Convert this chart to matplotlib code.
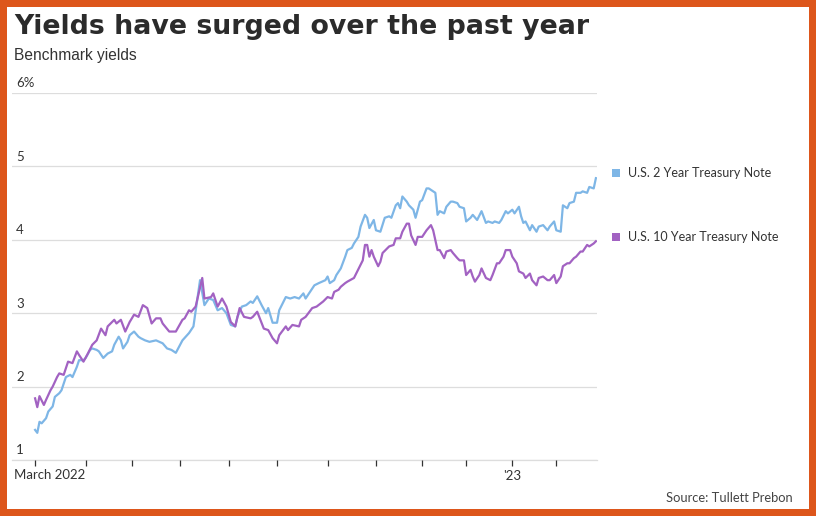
import matplotlib
matplotlib.use("Agg")
import matplotlib.pyplot as plt
import matplotlib.patches as patches
import matplotlib.transforms as mtransforms

# x = trading session number counted from March 1, 2022
two_year_x = [0, 1, 2, 3, 5, 6, 8, 9, 11, 12, 14, 16, 17, 19, 20, 22, 23, 25, 26, 28,
              29, 31, 33, 35, 36, 38, 39, 40, 42, 43, 45, 47, 48, 50, 52, 55, 58, 60, 62, 64,
              67, 70, 72, 75, 77, 79, 81, 83, 85, 87, 89, 91, 92, 94, 96, 98, 99, 101, 103, 105,
              106, 108, 110, 111, 114, 116, 118, 120, 122, 123, 125, 127, 129, 132, 133, 134, 136, 137, 139, 141,
              142, 144, 145, 147, 148, 150, 151, 152, 154, 155, 157, 159, 161, 162, 164, 165, 166, 167, 169, 170,
              172, 173, 175, 176, 178, 179, 181, 182, 183, 184, 186, 187, 189, 190, 192, 193, 195, 196, 198, 199,
              201, 203, 205, 206, 208, 209, 211, 212, 214, 215, 217, 218, 220, 221, 222, 223, 225, 226, 228, 229,
              231, 233, 234, 236, 237, 239, 240, 242, 243, 245, 246, 248, 249, 251, 252, 254, 255]
two_year = [1.41, 1.37, 1.52, 1.50, 1.57, 1.66, 1.73, 1.86, 1.91, 1.95, 2.13, 2.16, 2.13, 2.27, 2.36, 2.36, 2.39, 2.50, 2.52, 2.50,
            2.48, 2.39, 2.45, 2.48, 2.57, 2.68, 2.63, 2.52, 2.61, 2.70, 2.75, 2.68, 2.66, 2.63, 2.61, 2.63, 2.59, 2.52, 2.50, 2.46,
            2.63, 2.73, 2.82, 3.45, 3.11, 3.20, 3.18, 3.04, 3.07, 3.00, 2.84, 2.82, 2.95, 3.09, 3.11, 3.16, 3.14, 3.23, 3.11, 3.00,
            3.07, 2.87, 2.87, 3.04, 3.22, 3.20, 3.22, 3.20, 3.27, 3.20, 3.29, 3.38, 3.41, 3.45, 3.50, 3.41, 3.45, 3.52, 3.61, 3.77,
            3.86, 3.89, 3.95, 4.04, 4.18, 4.34, 4.30, 4.16, 4.27, 4.13, 4.11, 4.30, 4.32, 4.30, 4.47, 4.50, 4.43, 4.59, 4.52, 4.47,
            4.41, 4.30, 4.52, 4.54, 4.70, 4.70, 4.66, 4.64, 4.34, 4.39, 4.36, 4.45, 4.52, 4.52, 4.50, 4.45, 4.43, 4.25, 4.30, 4.34,
            4.27, 4.39, 4.23, 4.25, 4.23, 4.25, 4.23, 4.27, 4.39, 4.36, 4.41, 4.36, 4.45, 4.32, 4.23, 4.25, 4.13, 4.20, 4.11, 4.18,
            4.20, 4.13, 4.18, 4.25, 4.13, 4.11, 4.47, 4.43, 4.50, 4.52, 4.64, 4.64, 4.66, 4.64, 4.72, 4.70, 4.84]

ten_year_x = [0, 1, 2, 4, 5, 7, 8, 10, 11, 13, 15, 17, 19, 20, 22, 24, 26, 28, 30, 32,
              33, 36, 37, 39, 41, 43, 45, 47, 49, 51, 53, 55, 57, 58, 61, 63, 64, 67, 68, 70,
              71, 73, 76, 77, 80, 81, 83, 85, 87, 89, 91, 93, 95, 98, 99, 101, 104, 106, 108, 110,
              111, 114, 115, 117, 120, 121, 123, 126, 128, 131, 133, 135, 136, 138, 139, 141, 142, 145, 146, 148,
              149, 150, 151, 152, 153, 154, 156, 157, 158, 160, 161, 163, 164, 166, 167, 169, 170, 171, 173, 174,
              176, 178, 180, 181, 183, 184, 186, 187, 189, 190, 192, 193, 195, 196, 198, 199, 200, 202, 203, 205,
              207, 208, 210, 211, 213, 214, 216, 217, 219, 220, 222, 223, 225, 226, 228, 229, 231, 233, 234, 236,
              237, 239, 240, 242, 243, 245, 246, 248, 249, 251, 252, 254, 255]
ten_year = [1.84, 1.72, 1.87, 1.75, 1.82, 1.95, 2.00, 2.13, 2.18, 2.16, 2.34, 2.32, 2.48, 2.43, 2.34, 2.45, 2.57, 2.63, 2.79, 2.70,
            2.82, 2.91, 2.86, 2.91, 2.75, 2.88, 2.98, 2.95, 3.11, 3.07, 2.86, 2.93, 2.93, 2.86, 2.75, 2.75, 2.75, 2.91, 2.93, 3.04,
            3.02, 3.09, 3.48, 3.20, 3.22, 3.27, 3.09, 3.20, 3.09, 2.88, 2.82, 3.07, 2.95, 2.93, 2.95, 3.02, 2.79, 2.77, 2.66, 2.59,
            2.70, 2.82, 2.77, 2.84, 2.82, 2.91, 2.95, 3.07, 3.09, 3.16, 3.22, 3.20, 3.29, 3.32, 3.36, 3.41, 3.43, 3.48, 3.54, 3.66,
            3.72, 3.93, 3.93, 3.77, 3.86, 3.77, 3.64, 3.70, 3.82, 3.88, 3.91, 3.93, 4.02, 4.02, 4.11, 4.22, 4.22, 4.06, 3.93, 4.04,
            4.04, 4.13, 4.20, 4.13, 3.86, 3.86, 3.75, 3.84, 3.86, 3.82, 3.75, 3.72, 3.72, 3.52, 3.59, 3.50, 3.43, 3.52, 3.61, 3.48,
            3.45, 3.52, 3.68, 3.68, 3.77, 3.86, 3.86, 3.77, 3.68, 3.57, 3.54, 3.48, 3.54, 3.45, 3.38, 3.48, 3.50, 3.45, 3.45, 3.52,
            3.41, 3.50, 3.64, 3.68, 3.68, 3.75, 3.77, 3.84, 3.84, 3.93, 3.91, 3.95, 3.98]

# session numbers of the first trading day of each month, Mar 2022 .. Feb 2023
month_ticks = [0, 23, 44, 66, 88, 110, 133, 155, 176, 196, 217, 237]
month_labels = ["", "", "", "", "", "", "", "", "", "", "'23", ""]
y_ticks = [1, 2, 3, 4, 5, 6]
y_labels = ["1", "2", "3", "4", "5", "6%"]

series_names = ["U.S. 2 Year Treasury Note", "U.S. 10 Year Treasury Note"]
blue = "#7EB6E6"
purple = "#A262C2"
ink = "#333333"
label_font = ["Lato", "DejaVu Sans"]

fig = plt.figure(figsize=(8.16, 5.16), dpi=100, facecolor="#DD561B")
fig.patches.append(patches.Rectangle((7 / 816, 7 / 516), 802 / 816, 502 / 516,
                                     transform=fig.transFigure, facecolor="white",
                                     edgecolor="none", zorder=-10))

ax = fig.add_axes([12 / 816, 56 / 516, 585 / 816, 367 / 516])
ax.set_zorder(2)
ax.patch.set_alpha(0)
ax.plot(two_year_x, two_year, color=blue, lw=1.6, solid_joinstyle="round", zorder=3)
ax.plot(ten_year_x, ten_year, color=purple, lw=1.6, solid_joinstyle="round", zorder=3)

ax.set_xlim(-10.5, 255.5)
ax.set_ylim(1, 6)
for s in ["top", "right", "left", "bottom"]:
    ax.spines[s].set_visible(False)

ax.set_yticks(y_ticks)
ax.set_yticklabels([])
ax.tick_params(axis="y", length=0)
ax.grid(axis="y", color="#DDDDDD", lw=0.9, zorder=1)
ax.axhline(y_ticks[0], color="#DDDDDD", lw=0.9, zorder=1, clip_on=False)

trans = mtransforms.blended_transform_factory(ax.transAxes, ax.transData)
for v, lab in zip(y_ticks, y_labels):
    ax.text(0.007, v + 0.05, lab, transform=trans, ha="left", va="bottom", fontsize=9.5,
            color=ink, family=label_font)

ax.set_xticks(month_ticks)
ax.set_xticklabels(month_labels, fontsize=9.5, color=ink, family=label_font)
ax.tick_params(axis="x", length=4, width=0.9, color="#333333", pad=3)
ax.text(0.004, -0.025, "March 2022", transform=ax.transAxes, ha="left", va="top",
        fontsize=9.5, color=ink, family=label_font)

fig.text(14 / 816, 1 - 34 / 516, "Yields have surged over the past year",
         fontsize=19.3, fontweight="bold", color="#2B2B2B", family="DejaVu Sans",
         va="baseline", ha="left")
fig.text(14 / 816, 1 - 60 / 516, "Benchmark yields", fontsize=11.2, color=ink,
         family=["Liberation Sans", "DejaVu Sans"], va="baseline", ha="left")

legend_rows = [(1 - 173 / 516, blue), (1 - 237.5 / 516, purple)]
for (yc, col), name in zip(legend_rows, series_names):
    fig.patches.append(patches.Rectangle((612 / 816, yc - 4 / 516), 8 / 816, 8 / 516,
                                         transform=fig.transFigure, facecolor=col,
                                         edgecolor="none"))
    fig.text(628 / 816, yc, name, fontsize=9.0, color=ink, family=label_font,
             va="center", ha="left")

fig.text(793 / 816, 1 - 498 / 516, "Source: Tullett Prebon", fontsize=9.3, color="#444444",
         family=label_font, va="center", ha="right")

fig.savefig("out.png", dpi=100, facecolor=fig.get_facecolor())
